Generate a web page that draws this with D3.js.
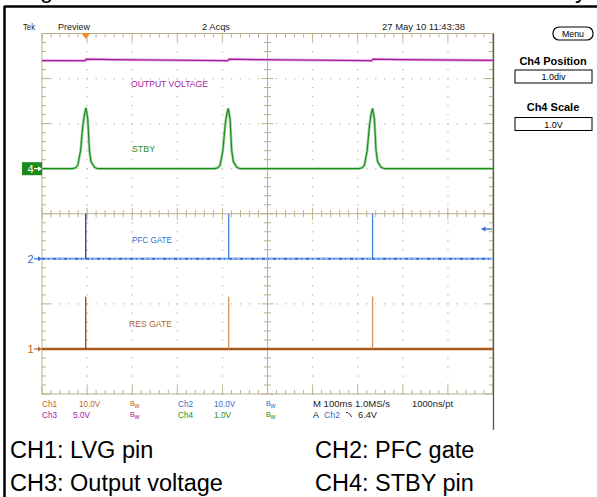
<!DOCTYPE html>
<meta charset="utf-8">
<head>
	<title>Scope capture - standby burst</title>
</head>

<style>
body { margin: 0; background: #fff; }
svg { display: block; font-family: "Liberation Sans", Arial, sans-serif; }
.grat line, .grat rect.frame { stroke: #bab18c; stroke-width: 1; fill: none; }
.tek { font-size: 9px; }
.big { font-size: 23.5px; fill: #000; }
</style>

<body>
<svg width="597" height="497"></svg>

<script src="https://cdnjs.cloudflare.com/ajax/libs/d3/7.8.5/d3.min.js"></script>
<script>

// ---- data (time in ms, values in volts) ----
var gateTimes = [97, 414, 733];          // CH1 / CH2 gate bursts
var ch1Spike  = [11.6, 11.6, 11.6];      // RES GATE
var ch2Spike  = [10.0, 10.0, 10.0];      // PFC GATE

var ch3Time = [0, 96, 98, 160, 412, 415, 480, 731, 734, 800, 1000];
var ch3Volt = [12.0, 11.98, 12.15, 12.1, 11.98, 12.15, 12.1, 11.98, 12.15, 12.1, 12.02];

var ch4Time = [0,
	67.5, 74.5, 79.5, 85.5, 90.5, 94, 97.5, 101.5, 105, 108.5, 116.5, 123.5,
	383, 390, 395, 401, 406, 409.5, 413, 417, 420.5, 424, 432, 439,
	703, 710, 715, 721, 726, 729.5, 733, 737, 740.5, 744, 752, 759,
	1000];
var ch4Volt = [0,
	0, 0.02, 0.08, 0.4, 0.95, 1.2, 1.35, 1.1, 0.42, 0.16, 0.03, 0,
	0, 0.02, 0.08, 0.4, 0.95, 1.2, 1.34, 1.1, 0.42, 0.16, 0.03, 0,
	0, 0.02, 0.08, 0.4, 0.95, 1.2, 1.34, 1.1, 0.42, 0.16, 0.03, 0,
	0];

// scope settings: V/div and offset in div, ch1..ch4
var chNames  = ['Ch1', 'Ch2', 'Ch3', 'Ch4'];
var chScale  = [10, 10, 5, 1];
var chOffset = [-3, -1, 1, 1];
var chLabels = ['10.0V', '10.0V', '5.0V', '1.0V'];
var chColor  = ['#b5652a', '#2f6fcf', '#a8209f', '#238f23'];

// ---- scales ----
var X0 = 42, X1 = 493, Y0 = 33.5, Y1 = 394;
var xDiv = d3.scaleLinear().domain([0, 10]).range([X0, X1]);
var yDiv = d3.scaleLinear().domain([-4, 4]).range([Y1, Y0]);
var xT = d3.scaleLinear().domain([0, 1000]).range([X0, X1]);

function chY(i) {
	return d3.scaleLinear()
		.domain([(-4 - chOffset[i]) * chScale[i], (4 - chOffset[i]) * chScale[i]])
		.range([Y1, Y0]);
}

var svg = d3.select('svg');

// frame borders of the page
svg.append('line').attr('x1', 4).attr('x2', 597).attr('y1', 6.5).attr('y2', 6.5)
	.attr('stroke', '#000').attr('stroke-width', 2.5);
svg.append('line').attr('x1', 4.5).attr('x2', 4.5).attr('y1', 6).attr('y2', 497)
	.attr('stroke', '#000').attr('stroke-width', 2.5);
// cut-off title descenders
svg.append('text').attr('class', 'big').attr('x', 40).attr('y', -2).text('g');
svg.append('text').attr('class', 'big').attr('x', 575).attr('y', -2).text('y');

// ---- graticule ----
var g = svg.append('g').attr('class', 'grat');

var dots = [];
d3.range(1, 10).forEach(function(k) {
	if (k == 5) return;
	d3.range(0, 40).forEach(function(s) { dots.push([k, -4 + s * 0.2]); });
});
d3.range(1, 8).forEach(function(k) {
	if (k == 4) return;
	d3.range(0, 50).forEach(function(s) { dots.push([s * 0.2, k - 4]); });
});
g.selectAll('rect.dot').data(dots).join('rect')
	.attr('class', 'dot')
	.attr('x', function(d) { return xDiv(d[0]) - 0.6; })
	.attr('y', function(d) { return yDiv(d[1]) - 0.6; })
	.attr('width', 1.3).attr('height', 1.3)
	.attr('fill', '#c4bc9a');

var hTicks = d3.range(0, 51).map(function(s) { return s * 0.2; });
var vTicks = d3.range(0, 41).map(function(s) { return -4 + s * 0.2; });
function isMajor(v) { return Math.abs(v - Math.round(v)) < 0.01; }

// edge ticks
g.selectAll('line.tt').data(hTicks).join('line')
	.attr('x1', function(d) { return xDiv(d); }).attr('x2', function(d) { return xDiv(d); })
	.attr('y1', Y0).attr('y2', function(d) { return Y0 + (isMajor(d) ? 8 : 4); });
g.selectAll('line.bt').data(hTicks).join('line')
	.attr('x1', function(d) { return xDiv(d); }).attr('x2', function(d) { return xDiv(d); })
	.attr('y1', Y1).attr('y2', function(d) { return Y1 - (isMajor(d) ? 8 : 4); });
g.selectAll('line.lt').data(vTicks).join('line')
	.attr('y1', function(d) { return yDiv(d); }).attr('y2', function(d) { return yDiv(d); })
	.attr('x1', X0).attr('x2', function(d) { return X0 + (isMajor(d) ? 8 : 4); });
g.selectAll('line.rt').data(vTicks).join('line')
	.attr('y1', function(d) { return yDiv(d); }).attr('y2', function(d) { return yDiv(d); })
	.attr('x1', X1).attr('x2', function(d) { return X1 - (isMajor(d) ? 8 : 4); });

// centre cross ticks
g.selectAll('line.ch').data(hTicks).join('line')
	.attr('x1', function(d) { return xDiv(d); }).attr('x2', function(d) { return xDiv(d); })
	.attr('y1', function(d) { return yDiv(0) - (isMajor(d) ? 6 : 3.5); })
	.attr('y2', function(d) { return yDiv(0) + (isMajor(d) ? 6 : 3.5); });
g.selectAll('line.cv').data(vTicks).join('line')
	.attr('y1', function(d) { return yDiv(d); }).attr('y2', function(d) { return yDiv(d); })
	.attr('x1', function(d) { return xDiv(5) - (isMajor(d) ? 6 : 3.5); })
	.attr('x2', function(d) { return xDiv(5) + (isMajor(d) ? 6 : 3.5); });

g.append('line').attr('x1', X0).attr('x2', X1).attr('y1', yDiv(0)).attr('y2', yDiv(0));
g.append('line').attr('x1', xDiv(5)).attr('x2', xDiv(5)).attr('y1', Y0).attr('y2', Y1);
g.append('rect').attr('class', 'frame').attr('x', X0).attr('y', Y0)
	.attr('width', X1 - X0).attr('height', Y1 - Y0);

// right edge of screen
svg.append('line').attr('x1', X1 + 0.5).attr('x2', X1 + 0.5).attr('y1', Y0).attr('y2', 430)
	.attr('stroke', '#555').attr('stroke-width', 1.3);

// ---- traces ----
var traces = svg.append('g');

// CH3 output voltage
var y3 = chY(2);
var line3 = d3.line()
	.x(function(d, i) { return xT(ch3Time[i]); })
	.y(function(d) { return y3(d); });
traces.append('path').attr('d', line3(ch3Volt))
	.attr('fill', 'none').attr('stroke', '#e3a6de').attr('stroke-width', 2.6);
traces.append('path').attr('d', line3(ch3Volt))
	.attr('fill', 'none').attr('stroke', '#a8209f').attr('stroke-width', 1.3);

// CH4 STBY
var y4 = chY(3);
var line4 = d3.line()
	.x(function(d, i) { return xT(ch4Time[i]); })
	.y(function(d) { return y4(d); });
traces.append('path').attr('d', line4(ch4Volt))
	.attr('fill', 'none').attr('stroke', '#a6d9a6').attr('stroke-width', 2.8);
traces.append('path').attr('d', line4(ch4Volt))
	.attr('fill', 'none').attr('stroke', '#1f8a1f').attr('stroke-width', 1.2);

// CH2 PFC gate
var y2 = chY(1);
traces.append('line').attr('x1', X0).attr('x2', X1).attr('y1', y2(0)).attr('y2', y2(0))
	.attr('stroke', '#8db3ea').attr('stroke-width', 2.6);
traces.append('line').attr('x1', X0).attr('x2', X1).attr('y1', y2(0)).attr('y2', y2(0))
	.attr('stroke', '#2a63c6').attr('stroke-width', 1.4).attr('stroke-dasharray', '3,3,1,4');
traces.selectAll('line.s2').data(ch2Spike).join('line')
	.attr('x1', function(d, i) { return xT(gateTimes[i]); })
	.attr('x2', function(d, i) { return xT(gateTimes[i]); })
	.attr('y1', y2(0)).attr('y2', function(d) { return y2(d); })
	.attr('stroke', function(d, i) { return i == 0 ? '#1c3d8f' : '#3d86dc'; })
	.attr('stroke-width', 1.3);

// CH1 RES gate
var y1 = chY(0);
traces.append('line').attr('x1', X0).attr('x2', X1).attr('y1', y1(0)).attr('y2', y1(0))
	.attr('stroke', '#a85a1e').attr('stroke-width', 2.4);
traces.selectAll('line.s1').data(ch1Spike).join('line')
	.attr('x1', function(d, i) { return xT(gateTimes[i]); })
	.attr('x2', function(d, i) { return xT(gateTimes[i]); })
	.attr('y1', y1(0)).attr('y2', function(d) { return y1(d); })
	.attr('stroke', function(d, i) { return i == 0 ? '#8a4a1a' : '#d0915a'; })
	.attr('stroke-width', 1.3);

// trace labels
function lab(txt, x, y, col, w) {
	svg.append('text').attr('x', x).attr('y', y).attr('fill', col)
		.attr('font-size', '9.5px').attr('textLength', w).attr('lengthAdjust', 'spacingAndGlyphs')
		.text(txt);
}
lab('OUTPUT VOLTAGE', 131, 87, '#a8209f', 77);
lab('STBY', 132, 152, '#238f23', 23);
lab('PFC GATE', 132, 243, '#2f6fcf', 40);
lab('RES GATE', 129, 327, '#b5652a', 43);

// ground markers
svg.append('rect').attr('x', 22).attr('y', yDiv(1) - 6.5).attr('width', 20).attr('height', 13)
	.attr('fill', '#1c8a1c');
function marker(n, yy, col) {
	svg.append('text').attr('x', 27.5).attr('y', yy + 4).attr('fill', col)
		.attr('font-size', '11px').text(n);
	svg.append('line').attr('x1', 34).attr('x2', 39).attr('y1', yy).attr('y2', yy)
		.attr('stroke', col).attr('stroke-width', 1.2);
	svg.append('path').attr('d', 'M38,' + (yy - 2.5) + 'L42,' + yy + 'L38,' + (yy + 2.5) + 'Z')
		.attr('fill', col);
}
marker('4', y4(0), '#fff');
marker('2', y2(0), '#2f6fcf');
marker('1', y1(0), '#b5652a');

// trigger position / level markers
svg.append('path').attr('d', 'M' + (xT(97) - 4.5) + ',33L' + (xT(97) + 4.5) + ',33L' + xT(97) + ',39Z')
	.attr('fill', '#f08a2c');
svg.append('line').attr('x1', 484).attr('x2', 492).attr('y1', 229).attr('y2', 229)
	.attr('stroke', '#2f6fcf').attr('stroke-width', 1.3);
svg.append('path').attr('d', 'M481,229L485.5,226.5L485.5,231.5Z').attr('fill', '#2f6fcf');

// ---- header ----
function tek(txt, x, y, w, col) {
	svg.append('text').attr('class', 'tek').attr('x', x).attr('y', y)
		.attr('fill', col || '#222')
		.attr('textLength', w).attr('lengthAdjust', 'spacingAndGlyphs').text(txt);
}
tek('Tek', 23, 30, 12);
tek('Preview', 58, 30, 32);
tek('2 Acqs', 202, 30, 28);
tek('27 May 10 11:43:38', 382, 30, 83);

// ---- bottom readout ----
var rowY = [407, 418];
var colX = [[42, 79, 130], [178, 214, 266]];
[[0, 0, 0], [1, 0, 1], [2, 1, 0], [3, 1, 1]].forEach(function(c) {
	var i = c[0], row = rowY[c[1]], col = colX[c[2]];
	tek(chNames[i], col[0], row, 15, chColor[i]);
	tek(chLabels[i], col[1] - (i == 2 ? 6 : 0), row, chLabels[i].length == 5 ? 21 : 17, chColor[i]);
	svg.append('text').attr('x', col[2]).attr('y', row - 1).attr('fill', chColor[i])
		.attr('font-size', '7px').text('B');
	svg.append('text').attr('x', col[2] + 4.5).attr('y', row + 0.5).attr('fill', chColor[i])
		.attr('font-size', '7px').text('w');
});
tek('M 100ms 1.0MS/s', 313, 407, 77);
tek('1000ns/pt', 412, 407, 41);
tek('A', 313, 418, 6);
tek('Ch2', 324, 418, 16, '#2f6fcf');
svg.append('path').attr('d', 'M346,412.5L348,412.5L352,417').attr('fill', 'none')
	.attr('stroke', '#222').attr('stroke-width', 0.9);
tek('6.4V', 358, 418, 19);

// ---- side menu ----
svg.append('rect').attr('x', 553).attr('y', 27).attr('width', 40).attr('height', 13).attr('rx', 6)
	.attr('fill', '#fff').attr('stroke', '#000').attr('stroke-width', 1.2);
svg.append('text').attr('x', 573).attr('y', 37).attr('text-anchor', 'middle')
	.attr('font-size', '9px').attr('textLength', 22).attr('lengthAdjust', 'spacingAndGlyphs').text('Menu');
svg.append('text').attr('x', 553).attr('y', 65).attr('text-anchor', 'middle')
	.attr('font-size', '11px').attr('font-weight', 'bold').text('Ch4 Position');
svg.append('rect').attr('x', 515).attr('y', 70).attr('width', 77).attr('height', 13)
	.attr('fill', '#fff').attr('stroke', '#000');
svg.append('text').attr('x', 553.5).attr('y', 80).attr('text-anchor', 'middle')
	.attr('font-size', '9px').text('1.0div');
svg.append('text').attr('x', 553).attr('y', 111).attr('text-anchor', 'middle')
	.attr('font-size', '11px').attr('font-weight', 'bold').text('Ch4 Scale');
svg.append('rect').attr('x', 515).attr('y', 117.5).attr('width', 77).attr('height', 13)
	.attr('fill', '#fff').attr('stroke', '#000');
svg.append('text').attr('x', 553.5).attr('y', 127.5).attr('text-anchor', 'middle')
	.attr('font-size', '9px').text('1.0V');

// ---- caption ----
svg.append('text').attr('class', 'big').attr('x', 10).attr('y', 458).text('CH1: LVG pin');
svg.append('text').attr('class', 'big').attr('x', 10).attr('y', 491).text('CH3: Output voltage');
svg.append('text').attr('class', 'big').attr('x', 315).attr('y', 458).text('CH2: PFC gate');
svg.append('text').attr('class', 'big').attr('x', 315).attr('y', 491).text('CH4: STBY pin');

</script>
</body>
</html>
